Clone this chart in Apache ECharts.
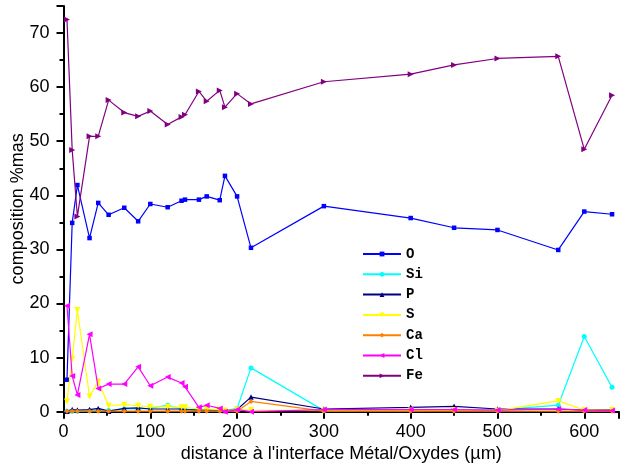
<!DOCTYPE html>
<html>
<head>
<meta charset="utf-8">
<script src="https://cdn.jsdelivr.net/npm/echarts@6/dist/echarts.min.js"></script>
<style>html,body{margin:0;padding:0;background:#fff}#c{width:628px;height:464px}</style>
</head>
<body>
<div id="c"></div>
<script>
var distances = [4, 10, 16, 30, 40, 52, 70, 86, 100, 120, 136, 140, 156, 165, 180, 186, 200, 216, 300, 400, 450, 500, 570, 600, 632];
var O  = [5.9, 34.9, 41.9, 32.1, 38.6, 36.4, 37.7, 35.2, 38.4, 37.8, 39.0, 39.2, 39.2, 39.8, 39.1, 43.6, 39.8, 30.3, 38.0, 35.8, 34.0, 33.6, 29.9, 37.0, 36.5];
var Si = [0.1, 0.1, 0.1, 0.2, 0.3, 0.2, 0.5, 0.5, 0.6, 1.2, 0.5, 0.5, 0.3, 0.3, 0.3, 0.2, 0.6, 8.1, 0.2, 0.3, 0.4, 0.3, 1.2, 13.9, 4.5];
var P  = [0.1, 0.4, 0.3, 0.4, 0.6, 0.1, 0.6, 0.7, 0.5, 0.5, 0.5, 0.4, 0.3, 0.3, 0.3, 0.2, 0.4, 2.7, 0.5, 0.8, 1.0, 0.5, 0.5, 0.3, 0.4];
var S  = [1.9, 9.8, 18.8, 2.8, 5.6, 1.1, 1.3, 1.1, 0.9, 0.9, 0.8, 0.8, 0.5, 0.5, 0.4, 0.2, 0.4, 0.3, 0.2, 0.2, 0.3, 0.2, 2.0, 0.3, 0.3];
var Ca = [0.1, 0.1, 0.1, 0.1, 0.1, 0.1, 0.1, 0.1, 0.1, 0.1, 0.1, 0.1, 0.1, 0.1, 0.1, 0.1, 0.1, 1.9, 0.1, 0.1, 0.1, 0.1, 0.1, 0.1, 0.1];
var Cl = [19.6, 6.6, 3.1, 14.3, 4.3, 5.1, 5.1, 8.3, 4.8, 6.4, 5.3, 4.6, 0.8, 1.2, 0.6, 0.0, 0.4, 0.0, 0.4, 0.4, 0.4, 0.3, 0.5, 0.3, 0.2];
var Fe = [72.5, 48.4, 36.1, 50.9, 50.9, 57.6, 55.3, 54.6, 55.6, 53.1, 54.5, 54.9, 59.2, 57.4, 59.4, 56.3, 58.8, 56.9, 61.0, 62.4, 64.1, 65.3, 65.7, 48.5, 58.5];

var seriesNames = ['O', 'Si', 'P', 'S', 'Ca', 'Cl', 'Fe'];
var seriesValues = [O, Si, P, S, Ca, Cl, Fe];
var seriesColors = ['#0000ff', '#00ffff', '#000080', '#ffff00', '#ff8000', '#ff00ff', '#800080'];
var seriesSymbols = ['rect', 'circle', 'triangle', 'triangle', 'diamond', 'triangle', 'triangle'];
var seriesRotate = [0, 0, 0, 180, 0, 90, -90];
var seriesSize = [4.5, 5, 5.5, 6, 5, 6, 6];

function pairs(vals) {
  return distances.map(function (d, i) { return [d, vals[i]]; });
}

var series = seriesNames.map(function (n, i) {
  return {
    name: n,
    type: 'line',
    data: pairs(seriesValues[i]),
    symbol: seriesSymbols[i],
    symbolRotate: seriesRotate[i],
    symbolSize: seriesSize[i],
    showSymbol: true,
    color: seriesColors[i],
    lineStyle: { width: 1.2, color: seriesColors[i] },
    itemStyle: { color: seriesColors[i] },
    animation: false,
    z: 2 + i
  };
});

var chart = echarts.init(document.getElementById('c'), null, { renderer: 'canvas' });
chart.setOption({
  backgroundColor: '#ffffff',
  animation: false,
  grid: { left: 63.5, right: 9, top: 6, bottom: 52.3, containLabel: false, outerBoundsMode: 'none' },
  legend: {
    orient: 'vertical',
    left: 357,
    top: 242,
    itemWidth: 38,
    itemHeight: 6,
    itemGap: 6.3,
    data: seriesNames,
    textStyle: { fontFamily: 'Liberation Mono', fontSize: 14, lineHeight: 14, color: '#000', fontWeight: 'bold' },
    backgroundColor: 'rgba(255,255,255,0)'
  },
  xAxis: {
    type: 'value',
    min: 0, max: 640, interval: 100,
    name: "distance à l'interface Métal/Oxydes (µm)",
    nameLocation: 'middle',
    nameGap: 33,
    nameMoveOverlap: false,
    nameTextStyle: { fontFamily: 'Liberation Sans', fontSize: 18, color: '#000' },
    axisLine: { show: true, onZero: false, lineStyle: { color: '#000', width: 2 } },
    axisTick: { show: true, inside: false, length: 7, lineStyle: { color: '#000', width: 2 } },
    minorTick: { show: true, splitNumber: 2, length: 4, lineStyle: { color: '#000', width: 2 } },
    axisLabel: { show: true, margin: 11, fontFamily: 'Liberation Sans', fontSize: 18, color: '#000', showMaxLabel: false },
    splitLine: { show: false }
  },
  yAxis: {
    type: 'value',
    min: 0, max: 75, interval: 10,
    name: 'composition %mas',
    nameLocation: 'middle',
    nameGap: 36,
    nameMoveOverlap: false,
    nameTextStyle: { fontFamily: 'Liberation Sans', fontSize: 18, color: '#000' },
    axisLine: { show: true, onZero: false, lineStyle: { color: '#000', width: 2 } },
    axisTick: { show: true, inside: false, length: 7, lineStyle: { color: '#000', width: 2 } },
    minorTick: { show: true, splitNumber: 2, length: 4, lineStyle: { color: '#000', width: 2 } },
    axisLabel: { show: true, margin: 14, fontFamily: 'Liberation Sans', fontSize: 18, color: '#000', showMaxLabel: false },
    splitLine: { show: false }
  },
  series: series
});
</script>
</body>
</html>
